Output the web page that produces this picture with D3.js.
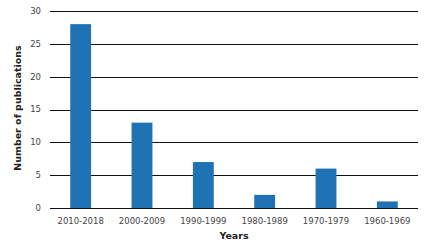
<!doctype html>
<html>
<head>
<meta charset="UTF-8">
<script src="https://cdn.jsdelivr.net/npm/d3@7"></script>
<style>
  body { margin: 0; background: #fff; }
  text { font-family: "DejaVu Sans", Verdana, sans-serif; }
</style>
</head>
<body>
<script>
var categories = ["2010-2018", "2000-2009", "1990-1999", "1980-1989", "1970-1979", "1960-1969"];
var counts = [28, 13, 7, 2, 6, 1];
var yTicks = [0, 5, 10, 15, 20, 25, 30];

var width = 430, height = 245,
    margin = {top: 11, right: 12, bottom: 37, left: 50};

var svg = d3.select("body").append("svg")
    .attr("width", width)
    .attr("height", height);

var x = d3.scaleBand()
    .domain(categories)
    .range([margin.left, width - margin.right])
    .paddingInner(0.66)
    .paddingOuter(0.33);

var y = d3.scaleLinear()
    .domain([0, 30])
    .range([height - margin.bottom, margin.top]);

// gridlines
svg.selectAll("line.grid")
    .data(yTicks)
    .enter()
    .append("line")
    .attr("class", "grid")
    .attr("x1", margin.left)
    .attr("x2", width - margin.right)
    .attr("y1", function(d){ return Math.round(y(d)) + 0.5; })
    .attr("y2", function(d){ return Math.round(y(d)) + 0.5; })
    .attr("stroke", "#111")
    .attr("stroke-width", 1);

svg.selectAll("text.ytick")
    .data(yTicks)
    .enter()
    .append("text")
    .attr("class", "ytick")
    .attr("x", 41)
    .attr("y", function(d){ return y(d); })
    .attr("dy", "0.35em")
    .attr("text-anchor", "end")
    .attr("font-size", 8.5)
    .attr("fill", "#444")
    .text(function(d){ return d; });

svg.selectAll("rect")
    .data(counts)
    .enter()
    .append("rect")
    .attr("x", function(d, i){ return x(categories[i]); })
    .attr("width", x.bandwidth())
    .attr("y", function(d){ return y(d); })
    .attr("height", function(d){ return y(0) - y(d); })
    .attr("fill", "#1f72b3");

svg.selectAll("text.xtick")
    .data(categories)
    .enter()
    .append("text")
    .attr("class", "xtick")
    .attr("x", function(d){ return x(d) + x.bandwidth() / 2; })
    .attr("y", 224)
    .attr("text-anchor", "middle")
    .attr("font-size", 8.5)
    .attr("fill", "#444")
    .text(function(d){ return d; });

svg.append("text")
    .attr("x", (margin.left + width - margin.right) / 2)
    .attr("y", 239)
    .attr("text-anchor", "middle")
    .attr("font-size", 9.5)
    .attr("font-weight", "bold")
    .attr("fill", "#222")
    .text("Years");

svg.append("text")
    .attr("transform", "translate(21,108) rotate(-90)")
    .attr("text-anchor", "middle")
    .attr("font-size", 9.5)
    .attr("font-weight", "bold")
    .attr("fill", "#222")
    .text("Number of publications");
</script>
</body>
</html>
